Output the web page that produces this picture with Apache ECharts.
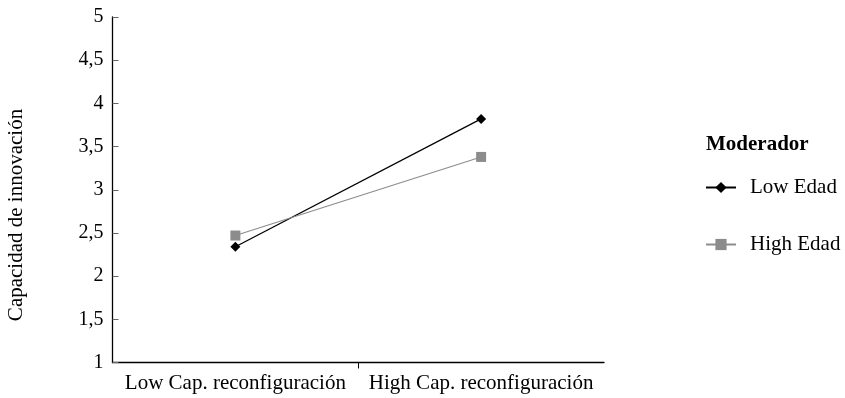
<!DOCTYPE html>
<html>
<head>
<meta charset="utf-8">
<script src="https://cdn.jsdelivr.net/npm/echarts@6/dist/echarts.min.js"></script>
<style>html,body{margin:0;padding:0;background:#fff}#c{width:845px;height:398px}</style>
</head>
<body>
<div id="c"></div>
<script>
const categories = ['Low Cap. reconfiguración', 'High Cap. reconfiguración'];
const lowEdad = [2.34, 3.82];
const highEdad = [2.47, 3.38];
const seriesNames = ['Low Edad', 'High Edad'];
const yTitle = 'Capacidad de innovación';
const legendTitle = 'Moderador';

const FONT = '"Liberation Serif", "Times New Roman", serif';
const chart = echarts.init(document.getElementById('c'), null, {renderer: 'canvas'});
chart.setOption({
  animation: false,
  backgroundColor: '#fff',
  textStyle: {fontFamily: FONT},
  grid: {left: 112.5, right: 241, top: 17, bottom: 35.5},
  title: {
    text: legendTitle, left: 701, top: 129,
    textStyle: {fontFamily: FONT, fontWeight: 'bold', fontSize: 21, color: '#000'}
  },
  legend: {
    orient: 'vertical', left: 700, top: 172,
    itemWidth: 30, itemHeight: 14, itemGap: 36,
    data: seriesNames,
    textStyle: {fontFamily: FONT, fontSize: 21, color: '#000', padding: [0, 0, 0, 9]}
  },
  graphic: [{
    type: 'text',
    rotation: Math.PI / 2,
    x: 16, y: 215,
    style: {text: yTitle, font: '21px ' + FONT, fill: '#000', align: 'center', verticalAlign: 'middle'}
  }],
  xAxis: [{
    type: 'category', data: categories, boundaryGap: true,
    axisLine: {lineStyle: {color: '#000', width: 1.3}},
    axisTick: {show: false},
    axisLabel: {fontFamily: FONT, fontSize: 21, color: '#000', margin: 10, interval: 0},
    splitLine: {show: false}
  }, {
    type: 'value', min: 0, max: 2, position: 'bottom',
    axisLine: {show: false},
    axisTick: {show: true, length: 6, lineStyle: {color: '#000'}, customValues: [1]},
    axisLabel: {show: false},
    splitLine: {show: false}
  }],
  yAxis: {
    type: 'value', min: 1, max: 5, interval: 0.5,
    axisLine: {show: true, lineStyle: {color: '#000', width: 1.3}},
    axisTick: {show: true, inside: true, length: 6, lineStyle: {color: '#666'}},
    axisLabel: {fontFamily: FONT, fontSize: 20, color: '#000', margin: 9,
      formatter: v => String(v).replace('.', ',')},
    splitLine: {show: false}
  },
  series: [
    {
      name: seriesNames[0], type: 'line', data: lowEdad,
      symbol: 'diamond', symbolSize: 10,
      lineStyle: {color: '#000', width: 1.3},
      itemStyle: {color: '#000'}
    },
    {
      name: seriesNames[1], type: 'line', data: highEdad,
      symbol: 'rect', symbolSize: 10,
      lineStyle: {color: '#8c8c8c', width: 1.1},
      itemStyle: {color: '#8c8c8c'}
    }
  ]
});
</script>
</body>
</html>
